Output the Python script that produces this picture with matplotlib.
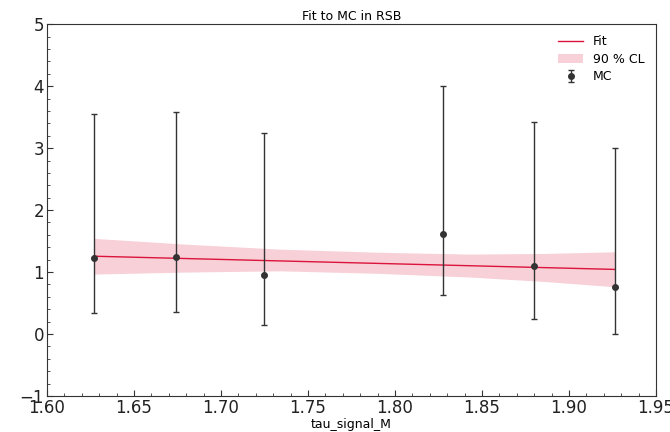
import matplotlib
matplotlib.use("Agg")
import matplotlib.pyplot as plt
from matplotlib.ticker import AutoMinorLocator, MultipleLocator

# Data
mc_x = [1.627, 1.674, 1.725, 1.8276, 1.880, 1.9264]
mc_y = [1.22, 1.25, 0.95, 1.61, 1.10, 0.76]
mc_hi = [3.55, 3.58, 3.24, 4.00, 3.42, 3.00]
mc_lo = [0.34, 0.355, 0.145, 0.63, 0.24, 0.00]

fit_x = [1.627, 1.9264]
fit_y = [1.256, 1.043]

band_x = [1.627, 1.68, 1.734, 1.79, 1.843, 1.885, 1.9264]
band_hi = [1.544, 1.45, 1.37, 1.32, 1.29, 1.30, 1.327]
band_lo = [0.968, 1.00, 1.02, 0.98, 0.92, 0.85, 0.763]

fig = plt.figure(figsize=(6.7, 4.32), dpi=100)
ax = fig.add_axes([0.0701, 0.0833, 0.9089, 0.8607])

ax.fill_between(band_x, band_lo, band_hi, color="crimson", alpha=0.2, lw=0, label="90 % CL")
ax.plot(fit_x, fit_y, color="crimson", lw=1, label="Fit")
yerr = [[y - l for y, l in zip(mc_y, mc_lo)], [h - y for y, h in zip(mc_y, mc_hi)]]
ax.errorbar(mc_x, mc_y, yerr=yerr, fmt="o", color="#333333", ms=4, elinewidth=1,
            capsize=2.5, capthick=1, label="MC")

ax.set_xlim(1.60, 1.95)
ax.set_ylim(-1, 5)
ax.xaxis.set_major_locator(MultipleLocator(0.05))
ax.xaxis.set_minor_locator(AutoMinorLocator(5))
ax.yaxis.set_major_locator(MultipleLocator(1))
ax.yaxis.set_minor_locator(AutoMinorLocator(5))
ax.tick_params(which="both", direction="in", top=False, right=False, colors="#333333",
               labelcolor="#222222")
ax.tick_params(which="major", length=4.5, labelsize=12, pad=2)
ax.tick_params(which="minor", length=2)
ax.xaxis.set_major_formatter(matplotlib.ticker.FormatStrFormatter("%.2f"))
for s in ax.spines.values():
    s.set_color("#333333")

ax.set_title("Fit to MC in RSB", fontsize=9, pad=3)
ax.set_xlabel("tau_signal_M", fontsize=9, loc="center", labelpad=1)

h, l = ax.get_legend_handles_labels()
order = [l.index("Fit"), l.index("90 % CL"), l.index("MC")]
ax.legend([h[i] for i in order], [l[i] for i in order], loc="upper right", frameon=False,
          fontsize=9, labelspacing=0.35)

fig.savefig("out.png", dpi=100)
